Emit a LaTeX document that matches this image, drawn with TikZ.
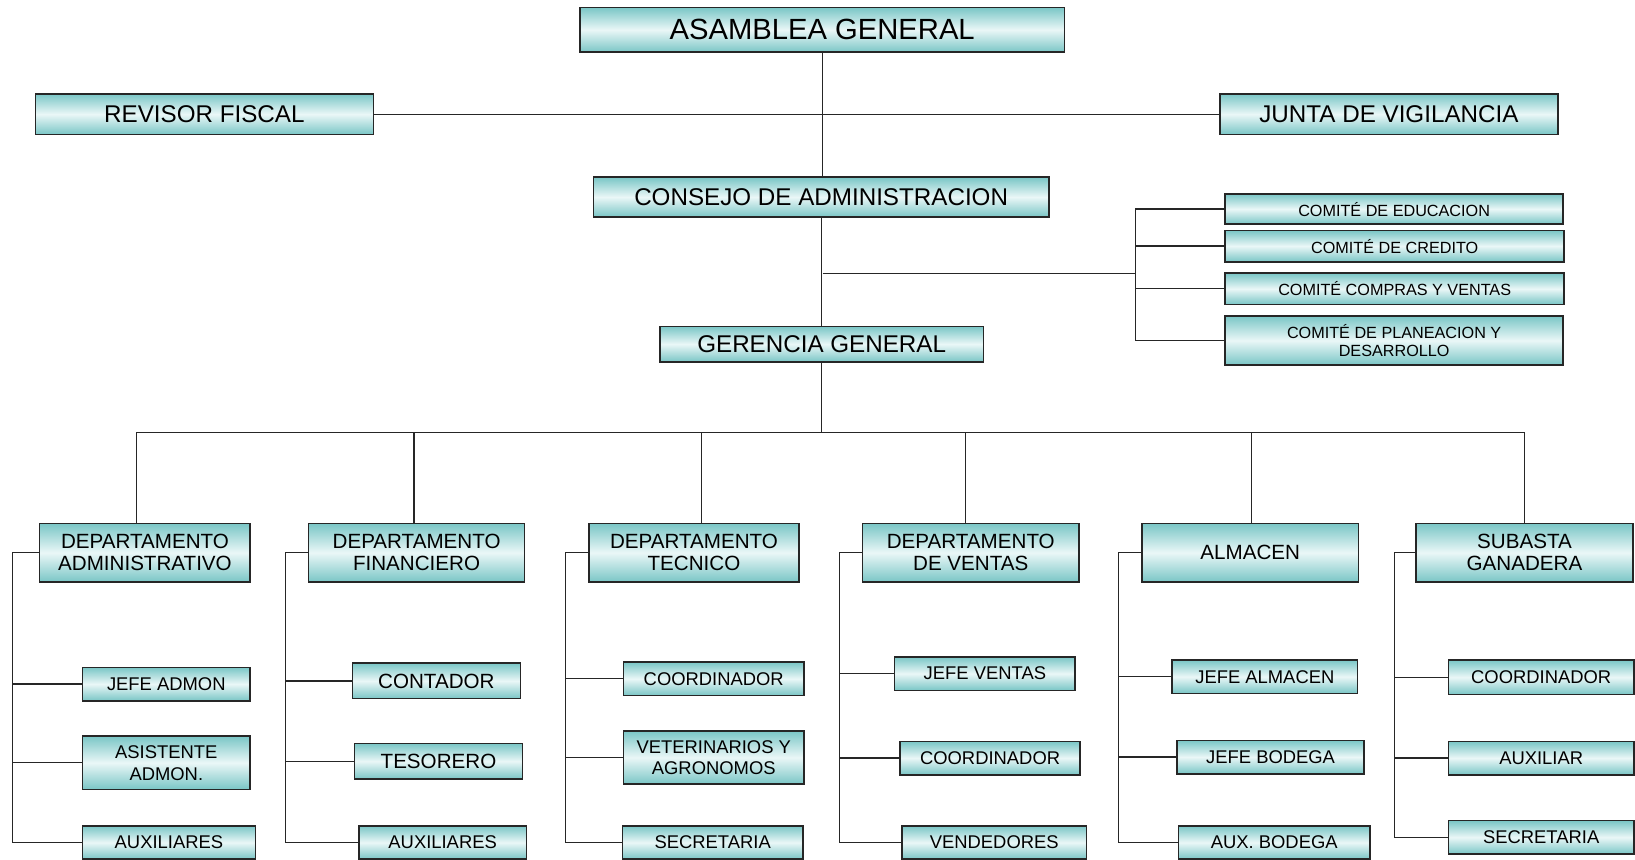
\documentclass[tikz,border=0pt]{standalone}
\usepackage{fontspec}
\setmainfont{Liberation Sans}
\usetikzlibrary{calc}
\definecolor{cajaborde}{RGB}{122,198,198}
\definecolor{cajacentro}{RGB}{234,247,247}
\def\px{0.52136pt}
\tikzset{
  caja/.style={draw=black!85, line width=0.8pt, top color=cajaborde, bottom color=cajaborde, middle color=cajacentro, align=center, inner sep=1pt, font=\fontsize{9.2}{11}\selectfont},
  linea/.style={line width=0.6pt, black!85},
  grande/.style={font=\fontsize{14.6}{16}\selectfont},
  media/.style={font=\fontsize{12.1}{14}\selectfont},
  depto/.style={font=\fontsize{10.3}{11.2}\selectfont},
  comite/.style={font=\fontsize{8.1}{9.4}\selectfont},
}
\def\caja[#1](#2)(#3,#4)(#5,#6)#7{\node[caja,#1,minimum width={(#5-#3)*\px},minimum height={(#6-#4)*\px}] (#2) at ({(#3+#5)/2},{(#4+#6)/2}) {#7};}

\begin{document}
\begin{tikzpicture}[x=\px,y=-\px]
	%%%%% START %%%%%
	\useasboundingbox (0,0) rectangle (1568,824);

	\caja[grande](asamblea)(556,7)(1021,50){ASAMBLEA GENERAL}
	\caja[media](revisor)(34,90)(358,129){REVISOR FISCAL}
	\caja[media](junta)(1170,90)(1494,129){JUNTA DE VIGILANCIA}
	\caja[media](consejo)(569,170)(1006,208){CONSEJO DE ADMINISTRACION}
	\caja[media](gerencia)(633,313)(943,347){GERENCIA GENERAL}

	\caja[comite](ced)(1175,186)(1499,215){COMITÉ DE EDUCACION}
	\caja[comite](ccr)(1175,221)(1500,251){COMITÉ DE CREDITO}
	\caja[comite](ccv)(1175,262)(1500,292){COMITÉ COMPRAS Y VENTAS}
	\caja[comite](cpd)(1175,303)(1499,350){COMITÉ DE PLANEACION Y\\DESARROLLO}

	\caja[depto](dadm)(38,502)(240,558){DEPARTAMENTO\\ADMINISTRATIVO}
	\caja[depto](dfin)(296,502)(503,558){DEPARTAMENTO\\FINANCIERO}
	\caja[depto](dtec)(565,502)(766,558){DEPARTAMENTO\\TECNICO}
	\caja[depto](dven)(827,502)(1035,558){DEPARTAMENTO\\DE VENTAS}
	\caja[depto](dalm)(1095,502)(1303,558){ALMACEN}
	\caja[depto](dsub)(1358,502)(1566,558){SUBASTA\\GANADERA}

	\caja[](a1)(79,640)(240,672){JEFE ADMON}
	\caja[](a2)(79,706)(240,757){ASISTENTE\\ADMON.}
	\caja[](a3)(79,792)(245,824){AUXILIARES}

	\caja[depto](f1)(338,636)(499,670){CONTADOR}
	\caja[depto](f2)(340,713)(501,747){TESORERO}
	\caja[](f3)(344,792)(505,824){AUXILIARES}

	\caja[](t1)(598,635)(771,667){COORDINADOR}
	\caja[font=\fontsize{9.2}{10.4}\selectfont](t2)(598,701)(771,752){VETERINARIOS Y\\AGRONOMOS}
	\caja[](t3)(597,792)(770,824){SECRETARIA}

	\caja[](v1)(858,630)(1031,662){JEFE VENTAS}
	\caja[](v2)(863,711)(1036,743){COORDINADOR}
	\caja[](v3)(865,792)(1042,824){VENDEDORES}

	\caja[](m1)(1124,633)(1302,665){JEFE ALMACEN}
	\caja[](m2)(1129,710)(1308,742){JEFE BODEGA}
	\caja[](m3)(1130,792)(1314,824){AUX. BODEGA}

	\caja[](s1)(1389,633)(1567,666){COORDINADOR}
	\caja[](s2)(1389,711)(1567,743){AUXILIAR}
	\caja[](s3)(1389,787)(1567,819){SECRETARIA}

	% conexiones
	\draw[linea] (asamblea.south) -- (asamblea.south |- consejo.north);
	\draw[linea] (revisor) -- (junta);
	\draw[linea] (consejo.south) -- (consejo.south |- gerencia.north);

	\coordinate (cj) at (789,262);
	\coordinate (cb) at (1089,262);
	\draw[linea] (cj) -- (cb);
	\draw[linea] (ced.west) -| (cb) |- (cpd.west);
	\draw[linea] (ccr.west) -- (ccr.west -| cb);
	\draw[linea] (ccv.west) -- (ccv.west -| cb);

	\coordinate (gb) at (789,415);
	\draw[linea] (gerencia.south) -- (gerencia.south |- gb);
	\foreach \d/\x in {dadm/131,dfin/397,dtec/673,dven/926,dalm/1200,dsub/1462}
		\draw[linea] (\d.north -| \x,0) |- (gb);

	\foreach \d/\x/\p in {dadm/12/a,dfin/274/f,dtec/542/t,dven/805/v,dalm/1073/m,dsub/1337/s}{
		\draw[linea] (\d.west) -- (\d.west -| \x,0) |- (\p3.west);
		\draw[linea] (\p1.west) -- (\p1.west -| \x,0);
		\draw[linea] (\p2.west) -- (\p2.west -| \x,0);
	}

	%%%%% END %%%%%
\end{tikzpicture}
\end{document}
